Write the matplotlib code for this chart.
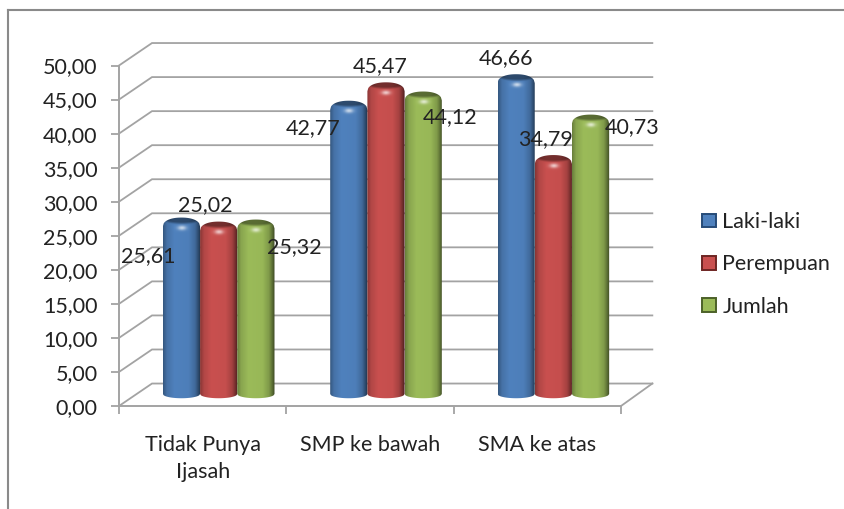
# Grafik batang silinder 3D: persentase per kelompok pendidikan dan jenis kelamin.
import matplotlib
matplotlib.use("Agg")
import matplotlib.pyplot as plt
import numpy as np
from matplotlib.lines import Line2D
from matplotlib.patches import Patch
from matplotlib.path import Path

plt.rcParams["font.family"] = ["Lato", "DejaVu Sans"]

categories = ["Tidak Punya\nIjasah", "SMP ke bawah", "SMA ke atas"]
series_names = ["Laki-laki", "Perempuan", "Jumlah"]
laki = [25.61, 42.77, 46.66]
perempuan = [25.02, 45.47, 34.79]
jumlah = [25.32, 44.12, 40.73]
value_ticks = [0, 5, 10, 15, 20, 25, 30, 35, 40, 45, 50]

COLORS = ["#4f81bd", "#c9504f", "#9bbb59"]
EDGES = ["#264b78", "#6e2523", "#4c6128"]
GRID = "#a3a3a3"
W, H = 845, 509
FONT = 15.5

# pergeseran kedalaman, dalam satuan data
PX_X = 167.3
PX_Y = 6.82
DEPTH_X = 33 / PX_X
DEPTH_Y = 22.5 / PX_Y
BAR_SHIFT = 16 / PX_X
BAR_LIFT = 12 / PX_Y
BAR_W = 37.2 / PX_X


def px(x, y):
    return x / W, 1 - y / H


def bar_image(color, height_px):
    # shading silinder: terang di tengah kiri, gelap di kedua tepi
    rgb = np.array(matplotlib.colors.to_rgb(color))
    nx, ny = 60, max(int(height_px), 10)
    u = np.linspace(-1, 1, nx)
    prof = np.interp(u, [-1, -0.8, -0.4, 0.35, 0.7, 0.92, 1],
                     [0.68, 0.88, 1.0, 0.98, 0.82, 0.52, 0.36])
    img = np.ones((ny, nx, 3)) * rgb * prof[None, :, None]
    # tutup atas yang lebih gelap, memudar ke badan silinder
    yy = np.arange(ny)[:, None]
    uu = u[None, :]
    edge = 5 * np.sqrt(np.clip(1 - uu ** 2, 0, 1)) + 0.5
    cap = np.clip((edge + 1.5 - yy) / 2.5, 0, 1)[..., None]
    img = img * (1 - 0.42 * cap)
    spot = np.exp(-((uu * 19 / 4.5) ** 2 + ((yy - 10) / 2.2) ** 2))[..., None]
    img = img + (1 - img) * spot * 0.7
    return np.clip(img, 0, 1)


def draw_bar(ax, xc, value, color, zorder):
    bottom = BAR_LIFT
    top = value + BAR_LIFT + 0.3
    half = BAR_W / 2
    u = np.linspace(-1, 1, 41)
    low = bottom - 0.62 * np.sqrt(1 - u ** 2)
    high = top - 1.3 * (1 - (1 - np.abs(u) ** 2.2) ** (1 / 2.2))
    verts = list(zip(xc + half * u, low)) + list(zip(xc + half * u[::-1], high[::-1]))
    verts.append(verts[0])
    im = ax.imshow(bar_image(color, (top - bottom) * PX_Y), aspect="auto",
                   extent=(xc - half, xc + half, bottom - 0.7, top),
                   zorder=zorder, interpolation="bilinear")
    im.set_clip_path(Path(verts), transform=ax.transData)


fig = plt.figure(figsize=(W / 100, H / 100), dpi=100)
ax = fig.add_axes([119 / W, (H - 406) / H, 502 / W, 340.5 / H])
ax.patch.set_alpha(0)

# bingkai luar
for xs, ys in [((8, 8), (10, H)), ((8, W), (10, 10))]:
    fig.add_artist(Line2D([x / W for x in xs], [1 - y / H for y in ys],
                          color="#8a8a8a", lw=1.5))

# garis dinding belakang dan dinding kiri
for v in value_ticks:
    ax.plot([0, DEPTH_X, 3 + DEPTH_X - 0.01], [v, v + DEPTH_Y, v + DEPTH_Y],
            color=GRID, lw=1.3, clip_on=False, zorder=1, solid_joinstyle="miter")
ax.plot([3, 3 + DEPTH_X - 0.01], [0, DEPTH_Y], color=GRID, lw=1.3, clip_on=False, zorder=1)

series = [laki, perempuan, jumlah]
for j, vals in enumerate(series):
    for i, v in enumerate(vals):
        draw_bar(ax, i + 0.5 + BAR_SHIFT + (j - 1) * BAR_W, v, COLORS[j], 3 + j)

ax.set_xlim(0, 3)
ax.set_ylim(0, 50)
for side in ("top", "right"):
    ax.spines[side].set_visible(False)
for side in ("left", "bottom"):
    ax.spines[side].set_color(GRID)
    ax.spines[side].set_linewidth(1.4)

ax.set_yticks(value_ticks, [f"{v:.2f}".replace(".", ",") for v in value_ticks])
ax.set_xticks([0, 1, 2, 3])
ax.set_xticklabels([])
ax.tick_params(axis="both", length=5.5, width=1.3, color=GRID)
ax.tick_params(axis="y", labelsize=FONT, pad=10, labelcolor="#222222")
ax.set_xticks([0.5, 1.5, 2.5], categories, minor=True)
ax.tick_params(axis="x", which="minor", length=0, labelsize=FONT, pad=21,
               labelcolor="#222222")
for lab in ax.get_xticklabels(minor=True):
    lab.set_linespacing(1.42)
    lab.set_va("top")

# label nilai
label_pos = [
    [(148, 256), (313, 128), (506, 58)],
    [(205, 205), (380, 66), (546, 139)],
    [(294, 247), (450, 117), (632, 127)],
]
for j, vals in enumerate(series):
    for i, v in enumerate(vals):
        x, y = px(*label_pos[j][i])
        fig.text(x, y, f"{v:.2f}".replace(".", ","), fontsize=FONT, color="#222222",
                 ha="center", va="center", zorder=10)

handles = [Patch(facecolor=COLORS[j], edgecolor=EDGES[j], linewidth=1.4) for j in range(3)]
fig.legend(handles, series_names, loc="center left", bbox_to_anchor=(702 / W, 1 - 264.5 / H),
           frameon=False, fontsize=FONT, labelspacing=1.04, handlelength=0.65,
           handleheight=0.6, handletextpad=0.3, labelcolor="#222222",
           borderpad=0, borderaxespad=0)

fig.savefig("out.png", dpi=100)
